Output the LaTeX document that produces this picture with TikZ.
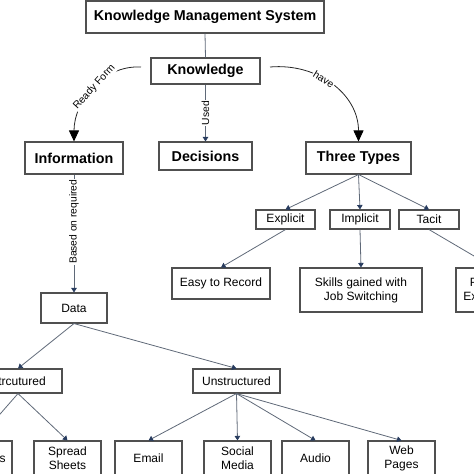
\documentclass[tikz,border=0pt]{standalone}
\usepackage{fontspec}
\setmainfont{Liberation Sans}
\usetikzlibrary{arrows.meta}
\definecolor{boxline}{RGB}{80,80,80}
\definecolor{edgec}{RGB}{95,105,120}
\definecolor{tipc}{RGB}{40,60,95}
\begin{document}
\begin{tikzpicture}[x=1pt,y=-1pt,
  box/.style={draw=boxline, line width=1.1pt, fill=white, inner sep=0pt, align=center, font=\fontsize{12}{14}\selectfont},
  bbox/.style={box, font=\fontsize{14.3}{16}\selectfont\bfseries},
  treeedge/.style={draw=edgec, line width=0.8pt, -{Triangle[width=5.5pt,length=4.5pt,color=tipc]}},
  plainedge/.style={draw=edgec, line width=0.8pt},
  curvearrow/.style={draw=black!85, line width=0.8pt, -{Triangle[width=10pt,length=11pt,color=black]}},
  lbl/.style={fill=white, inner sep=1pt, font=\fontsize{10.3}{12}\selectfont}]

\useasboundingbox (0,0) rectangle (474,474);
\clip (0,0) rectangle (474,474);

% top level
\node[bbox, minimum width=238pt, minimum height=32pt] (kms) at (205,17) {Knowledge Management System};
\node[bbox, minimum width=109pt, minimum height=26pt] (know) at (205.5,71) {Knowledge};
\node[bbox, minimum width=98pt, minimum height=32pt] (info) at (74,158) {Information};
\node[bbox, minimum width=93pt, minimum height=28pt] (dec) at (205.5,156) {Decisions};
\node[bbox, minimum width=105pt, minimum height=32pt] (three) at (358.5,158) {Three Types};

% types
\node[box, minimum width=59pt, minimum height=19pt] (expl) at (285.5,219.5) {Explicit};
\node[box, minimum width=60pt, minimum height=19pt] (impl) at (360,219.5) {Implicit};
\node[box, minimum width=60pt, minimum height=19pt] (tacit) at (429,219.5) {Tacit};

\node[box, minimum width=98pt, minimum height=31pt] (easy) at (221,283.5) {Easy to Record};
\node[box, minimum width=122pt, minimum height=44pt] (skills) at (361,290) {Skills gained with\\Job Switching};
\node[box, minimum width=75pt, minimum height=44pt] (pers) at (493.5,290) {Personal\\Experience};

% data
\node[box, minimum width=66pt, minimum height=30pt] (data) at (74,308) {Data};
\node[box, minimum width=88pt, minimum height=24pt] (struct) at (18,381) {Strcutured};
\node[box, minimum width=87pt, minimum height=24pt] (unstr) at (236.5,381) {Unstructured};

\node[box, minimum width=70pt, minimum height=34pt] (dbs) at (-23,458) {Databases};
\node[box, minimum width=67pt, minimum height=34pt] (spread) at (67.5,458) {Spread\\Sheets};
\node[box, minimum width=67pt, minimum height=34pt] (email) at (148.5,458) {Email};
\node[box, minimum width=67pt, minimum height=34pt] (social) at (237.5,458) {Social\\Media};
\node[box, minimum width=67pt, minimum height=34pt] (audio) at (315.5,458) {Audio};
\node[box, minimum width=67pt, minimum height=34pt] (web) at (401.5,458) {Web\\Pages};

% connectors
\draw[plainedge] (kms.south) -- (know.north);
\draw[treeedge] (know.south) -- node[lbl, rotate=90, pos=0.5] {Used} (dec.north);

\coordinate (rfstart) at (141,67);
\coordinate (hvstart) at (270,67);
\draw[curvearrow] (rfstart) to[out=177, in=90] node[lbl, sloped, pos=0.48] {Ready Form} (info.north);
\draw[curvearrow] (hvstart) to[out=5, in=90, looseness=1.05] node[lbl, sloped, pos=0.42] {have} (three.north);

\draw[treeedge] (three.south) -- (expl.north);
\draw[treeedge] (three.south) -- (impl.north);
\draw[treeedge] (three.south) -- (tacit.north);

\draw[treeedge] (expl.south) -- (easy.north);
\draw[treeedge] (impl.south) -- (skills.north);
\draw[treeedge] (tacit.south) -- (pers.north);

\draw[treeedge] (info.south) -- node[lbl, rotate=90, pos=0.4] {Based on required} (data.north);

\draw[treeedge] (data.south) -- (struct.north);
\draw[treeedge] (data.south) -- (unstr.north);

\draw[treeedge] (struct.south) -- (dbs.north);
\draw[treeedge] (struct.south) -- (spread.north);

\draw[treeedge] (unstr.south) -- (email.north);
\draw[treeedge] (unstr.south) -- (social.north);
\draw[treeedge] (unstr.south) -- (audio.north);
\draw[treeedge] (unstr.south) -- (web.north);
\end{tikzpicture}
\end{document}
